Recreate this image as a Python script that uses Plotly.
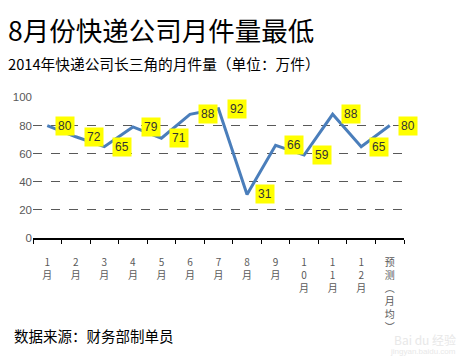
import plotly.graph_objects as go

categories = ["1月", "2月", "3月", "4月", "5月", "6月", "7月", "8月", "9月",
              "10月", "11月", "12月", "预测（月均）"]
tick_labels = ["1<br>月", "2<br>月", "3<br>月", "4<br>月", "5<br>月", "6<br>月",
               "7<br>月", "8<br>月", "9<br>月", "1<br>0<br>月", "1<br>1<br>月",
               "1<br>2<br>月", "预<br>测<br>︵<br>月<br>均<br>︶"]
values = [80, 72, 65, 79, 71, 88, 92, 31, 66, 59, 88, 65, 80]
y_ticks = [0, 20, 40, 60, 80, 100]

title_text = "8月份快递公司月件量最低"
subtitle_text = "2014年快递公司长三角的月件量（单位：万件）"
source_text = "数据来源：财务部制单员"

CJK = "Noto Sans CJK SC, Liberation Sans, sans-serif"
NUM = "Liberation Sans, Arial, sans-serif"

# page body has an 8px default margin; compensate
OFF = 8
W, H = 470 - OFF, 359 - OFF
ML = 33 - OFF
MT = 97 - OFF
MR = W - (404 - OFF)
MB = H - (238 - OFF)
pw, ph = W - ML - MR, H - MT - MB


def px(x):
    return (x - OFF - ML) / pw


def py(y):
    return 1 - (y - OFF - MT) / ph


fig = go.Figure()
fig.add_trace(go.Scatter(
    x=categories, y=values, mode="lines",
    line=dict(color="#4a7ebb", width=3),
    hoverinfo="skip", showlegend=False,
))

annotations = []
for c, v in zip(categories, values):
    annotations.append(dict(
        x=c, y=v, xref="x", yref="y", text=str(v), showarrow=False,
        xanchor="left", yanchor="middle", xshift=8,
        bgcolor="#ffff00", borderpad=2,
        font=dict(family=NUM, size=12, color="#333333"),
    ))

annotations += [
    dict(x=px(6), y=py(29), xref="paper", yref="paper", text=title_text, showarrow=False,
         xanchor="left", yanchor="middle",
         font=dict(family=CJK, size=26.5, color="#000000")),
    dict(x=px(6), y=py(63), xref="paper", yref="paper", text=subtitle_text, showarrow=False,
         xanchor="left", yanchor="middle",
         font=dict(family=CJK, size=14.7, color="#000000")),
    dict(x=px(12), y=py(335), xref="paper", yref="paper", text=source_text, showarrow=False,
         xanchor="left", yanchor="middle",
         font=dict(family=CJK, size=14.5, color="#000000")),
    # faint watermark
    dict(x=px(458), y=py(339), xref="paper", yref="paper",
         text="Bai du 经验", showarrow=False, xanchor="right", yanchor="middle",
         font=dict(family=CJK, size=12, color="#e8e8e8")),
    dict(x=px(458), y=py(351), xref="paper", yref="paper",
         text="jingyan.baidu.com", showarrow=False, xanchor="right", yanchor="middle",
         font=dict(family=NUM, size=8, color="#e8e8e8")),
]

fig.update_layout(
    width=W, height=H,
    margin=dict(l=ML, r=MR, t=MT, b=MB, pad=0),
    paper_bgcolor="white", plot_bgcolor="white",
    annotations=annotations,
)
fig.update_xaxes(
    type="category", tickvals=categories, ticktext=tick_labels,
    range=[-0.5, len(categories) - 0.5],
    tickson="boundaries", ticks="outside", ticklen=4, tickcolor="#000000",
    ticklabelstandoff=14,
    showline=True, linecolor="#000000", linewidth=1.5,
    showgrid=False, zeroline=False, automargin=False,
    tickfont=dict(family=CJK, size=10, color="#595959"),
    fixedrange=True,
)
fig.update_yaxes(
    range=[0, 100.3], tickvals=y_ticks,
    showgrid=True, gridcolor="#595959", griddash="dash", gridwidth=1,
    zeroline=False, showline=False, automargin=False,
    ticks="",
    tickfont=dict(family=NUM, size=11.5, color="#595959"),
    fixedrange=True,
)

fig.write_html("out.html")
